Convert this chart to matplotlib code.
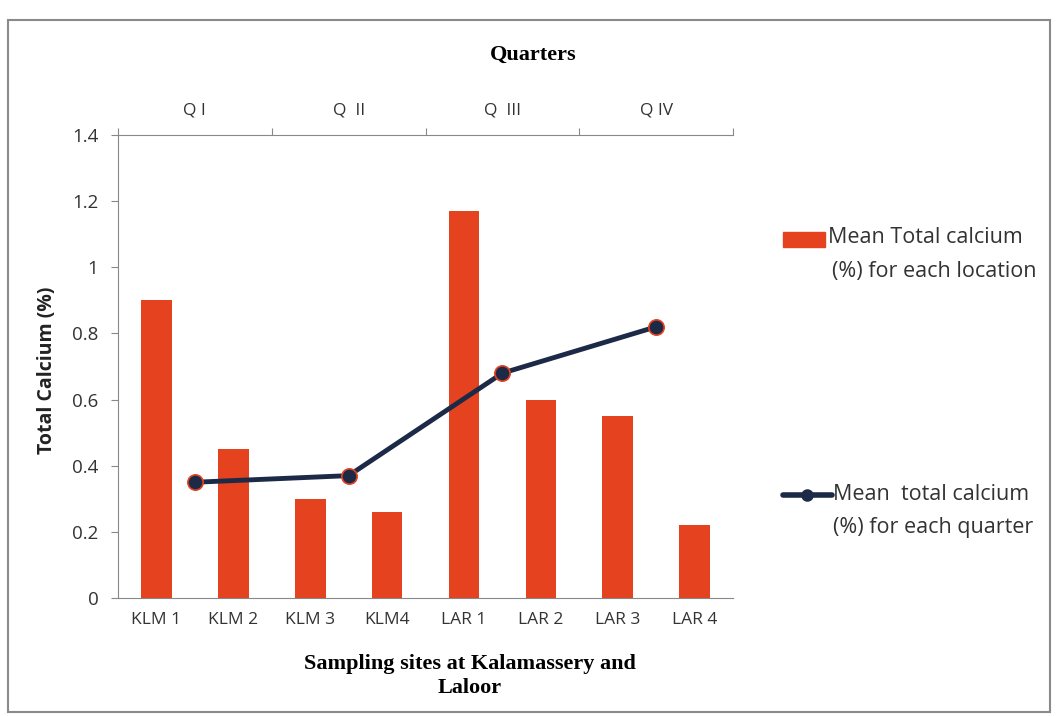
import matplotlib.pyplot as plt
from matplotlib.patches import Rectangle
from matplotlib.lines import Line2D
import numpy as np

# data
sites = ["KLM 1", "KLM 2", "KLM 3", "KLM4", "LAR 1", "LAR 2", "LAR 3", "LAR 4"]
site_calcium = [0.90, 0.45, 0.30, 0.26, 1.17, 0.60, 0.55, 0.22]
quarters = ["Q I", "Q  II", "Q  III", "Q IV"]
quarter_calcium = [0.35, 0.37, 0.68, 0.82]

bar_color = "#E5421F"
line_color = "#1C2A48"
text_color = "#333333"
sans = ["Open Sans", "DejaVu Sans"]
serif = ["Liberation Serif", "DejaVu Serif"]

fig = plt.figure(figsize=(10.57, 7.16), dpi=100)
ax = fig.add_axes([0.1116, 0.1648, 0.582, 0.6467])

x = np.arange(len(sites))
ax.bar(x, site_calcium, width=0.4, color=bar_color, zorder=2)
ax.set_xlim(-0.5, len(sites) - 0.5)
ax.set_ylim(0, 1.4)
ax.set_yticks(np.arange(0, 1.41, 0.2))
ax.set_yticklabels(["0", "0.2", "0.4", "0.6", "0.8", "1", "1.2", "1.4"],
                   family=sans, fontsize=13.5, color=text_color)
ax.set_xticks(x)
ax.set_xticklabels(sites, family=sans, fontsize=12.5, color=text_color)
ax.tick_params(axis="x", length=0, pad=10)
ax.tick_params(axis="y", length=5, color="#888888", pad=9)
for s in ["right", "top"]:
    ax.spines[s].set_visible(False)
for s in ["left", "bottom"]:
    ax.spines[s].set_color("#888888")
ax.set_ylabel("Total Calcium (%)", family=sans, fontsize=14, fontweight="bold",
              color="#222222")
ax.yaxis.set_label_coords(-0.099, 0.492)
ax.set_xlabel("Sampling sites at Kalamassery and\nLaloor", family=serif,
              fontsize=16, fontweight="bold", linespacing=1.3)
ax.xaxis.set_label_coords(0.572, -0.12)

# secondary (top) axis for quarters
ax2 = ax.twiny()
xq = np.arange(len(quarters)) + 0.5
ax2.plot(xq, quarter_calcium, color=line_color, lw=3.5, marker="o", ms=11,
         mfc=line_color, mec=bar_color, mew=1.2, zorder=3)
ax2.set_xlim(0, len(quarters))
ax2.set_xticks(np.arange(len(quarters) + 1))
ax2.set_xticklabels([])
ax2.set_xticks(xq, minor=True)
ax2.set_xticklabels(quarters, minor=True, family=sans, fontsize=12.5, color=text_color)
ax2.tick_params(axis="x", which="major", length=5, color="#888888")
ax2.tick_params(axis="x", which="minor", length=0, pad=12)
ax2.spines["top"].set_visible(True)
ax2.spines["top"].set_color("#888888")
for s in ["right", "left", "bottom"]:
    ax2.spines[s].set_visible(False)
ax2.set_xlabel("Quarters", family=serif, fontsize=16, fontweight="bold")
ax2.xaxis.set_label_coords(0.675, 1.162)

# legend, drawn by hand so the key sits on the first line of each label
fig.add_artist(Rectangle((783 / 1057, 1 - 247 / 716), 42 / 1057, 15 / 716,
                         transform=fig.transFigure, color=bar_color))
fig.text(828 / 1057, 1 - 237 / 716, "Mean Total calcium", family=sans,
         fontsize=15.5, color=text_color, va="center", ha="left")
fig.text(832 / 1057, 1 - 271 / 716, "(%) for each location", family=sans,
         fontsize=15.5, color=text_color, va="center", ha="left")
fig.add_artist(Line2D([783 / 1057, 832 / 1057], [1 - 495 / 716, 1 - 495 / 716],
                      transform=fig.transFigure, color=line_color, lw=4,
                      solid_capstyle="round"))
fig.add_artist(Line2D([807 / 1057], [1 - 495 / 716], transform=fig.transFigure,
                      color=line_color, marker="o", ms=8, mfc=line_color,
                      mec=line_color, ls="none"))
fig.text(833 / 1057, 1 - 494 / 716, "Mean  total calcium", family=sans,
         fontsize=15.5, color=text_color, va="center", ha="left")
fig.text(833 / 1057, 1 - 527 / 716, "(%) for each quarter", family=sans,
         fontsize=15.5, color=text_color, va="center", ha="left")

# border around the chart area
fig.add_artist(Rectangle((0.008, 0.006), 0.985, 0.966, transform=fig.transFigure,
                         fill=False, ec="#8a8a8a", lw=1.5))

fig.savefig("out.png", dpi=100)
